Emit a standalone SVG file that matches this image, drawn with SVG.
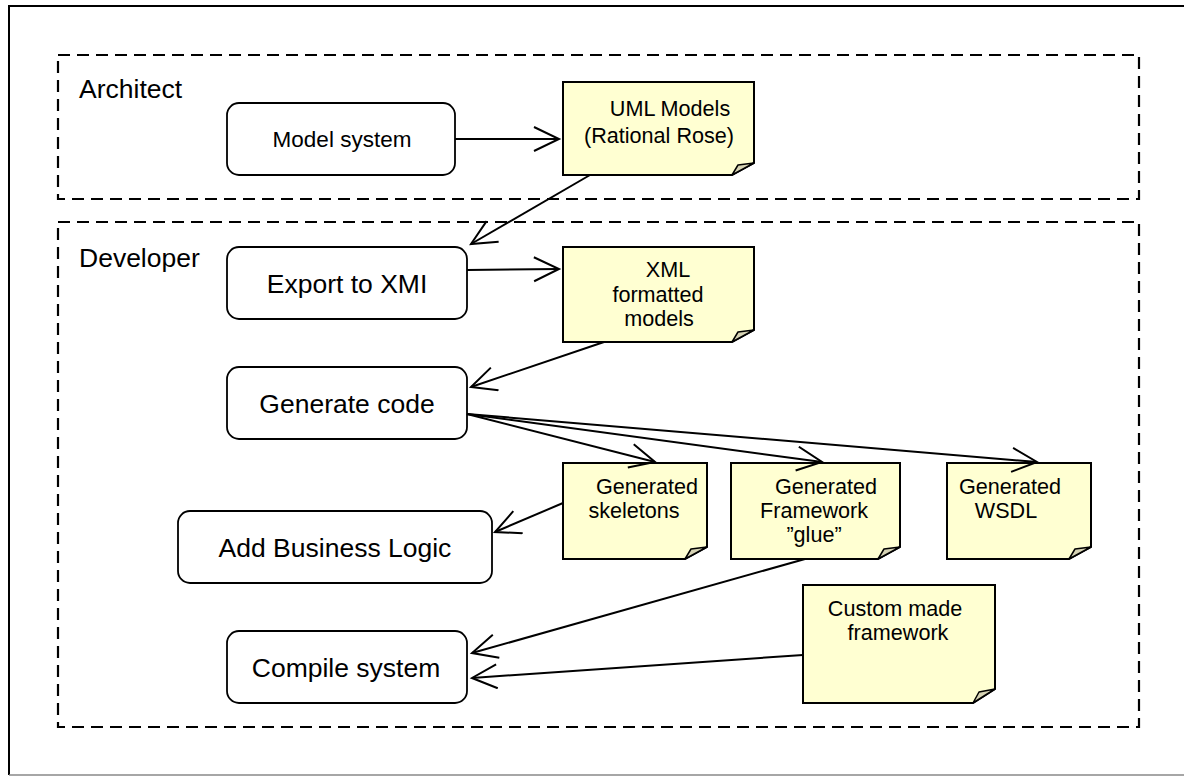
<svg xmlns="http://www.w3.org/2000/svg" width="1184" height="776" viewBox="0 0 1184 776">
<style>
.frame{fill:none;stroke:#000;stroke-width:2}
.lane{fill:none;stroke:#000;stroke-width:2.2;stroke-dasharray:12 7}
.lbl{font-family:"Liberation Sans",Arial,sans-serif;font-size:26.5px;fill:#000}
.box{fill:#fff;stroke:#000;stroke-width:1.8}
.btxt{font-family:"Liberation Sans",Arial,sans-serif;font-size:26.5px;fill:#000;text-anchor:middle}
.note{fill:#FFFFD2;stroke:#000;stroke-width:2}
.fold{fill:#D6D3B4;stroke:#000;stroke-width:1.5;stroke-linejoin:round}
.ntxt{font-family:"Liberation Sans",Arial,sans-serif;font-size:21.6px;fill:#000;text-anchor:middle}
.edge{fill:none;stroke:#000;stroke-width:2}
</style>
<defs>
<marker id="open" markerUnits="userSpaceOnUse" markerWidth="32" markerHeight="28" refX="27" refY="13" orient="auto">
<path d="M2,1 L27,13 L2,25" fill="none" stroke="#000" stroke-width="2"/>
</marker>
</defs>
<rect width="1184" height="776" fill="#fff"/>
<path class="frame" d="M1184,6 H9 V775"/>
<line x1="9" y1="775" x2="1184" y2="775" stroke="#888" stroke-width="1.5"/>

<g id="lane-architect">
<rect class="lane" x="58" y="55" width="1081" height="144"/>
<text class="lbl" x="79" y="98">Architect</text>
</g>
<g id="lane-developer">
<rect class="lane" x="58" y="222" width="1081" height="505"/>
<text class="lbl" x="79" y="267">Developer</text>
</g>

<g id="model-system">
<rect class="box" x="227" y="103" width="228" height="72" rx="12"/>
<text class="btxt" x="342" y="147" style="font-size:22.5px">Model system</text>
</g>
<g id="uml-models">
<path class="note" d="M563,82 H754 V163 L732,175 H563 Z"/>
<path class="fold" d="M732,175 L738,165 L754,163 Z"/>
<text class="ntxt" x="670" y="116">UML Models</text>
<text class="ntxt" x="659" y="143">(Rational Rose)</text>
</g>
<g id="export-xmi">
<rect class="box" x="227" y="247" width="240" height="72" rx="12"/>
<text class="btxt" x="347" y="293">Export to XMI</text>
</g>
<g id="xml-models">
<path class="note" d="M563,247 H754 V330 L732,342 H563 Z"/>
<path class="fold" d="M732,342 L738,332 L754,330 Z"/>
<text class="ntxt" x="668" y="277">XML</text>
<text class="ntxt" x="658" y="302">formatted</text>
<text class="ntxt" x="659" y="326">models</text>
</g>
<g id="generate-code">
<rect class="box" x="227" y="367" width="240" height="72" rx="12"/>
<text class="btxt" x="347" y="413">Generate code</text>
</g>
<g id="gen-skeletons">
<path class="note" d="M563,463 H707 V547 L685,559 H563 Z"/>
<path class="fold" d="M685,559 L691,549 L707,547 Z"/>
<text class="ntxt" x="647" y="494">Generated</text>
<text class="ntxt" x="634" y="518">skeletons</text>
</g>
<g id="gen-framework">
<path class="note" d="M731,463 H900 V547 L878,559 H731 Z"/>
<path class="fold" d="M878,559 L884,549 L900,547 Z"/>
<text class="ntxt" x="826" y="494">Generated</text>
<text class="ntxt" x="814" y="518">Framework</text>
<text class="ntxt" x="814" y="542">”glue”</text>
</g>
<g id="gen-wsdl">
<path class="note" d="M947,463 H1091 V547 L1069,559 H947 Z"/>
<path class="fold" d="M1069,559 L1075,549 L1091,547 Z"/>
<text class="ntxt" x="1010" y="494">Generated</text>
<text class="ntxt" x="1006" y="518">WSDL</text>
</g>
<g id="add-business-logic">
<rect class="box" x="178" y="511" width="314" height="72" rx="12"/>
<text class="btxt" x="335" y="557">Add Business Logic</text>
</g>
<g id="custom-framework">
<path class="note" d="M803,585 H995 V689 L973,703 H803 Z"/>
<path class="fold" d="M973,703 L979,692 L995,689 Z"/>
<text class="ntxt" x="895" y="616">Custom made</text>
<text class="ntxt" x="898" y="640">framework</text>
</g>
<g id="compile-system">
<rect class="box" x="227" y="631" width="240" height="72" rx="12"/>
<text class="btxt" x="346" y="677">Compile system</text>
</g>

<g id="connectors">
<line class="edge" x1="455" y1="139" x2="559" y2="139" marker-end="url(#open)"/>
<line class="edge" x1="590" y1="175" x2="471" y2="244" marker-end="url(#open)"/>
<line class="edge" x1="467" y1="270" x2="559" y2="269" marker-end="url(#open)"/>
<line class="edge" x1="604" y1="342" x2="471" y2="387" marker-end="url(#open)"/>
<line class="edge" x1="467" y1="414" x2="655" y2="462" marker-end="url(#open)"/>
<line class="edge" x1="467" y1="414" x2="822" y2="462" marker-end="url(#open)"/>
<line class="edge" x1="467" y1="414" x2="1037" y2="462" marker-end="url(#open)"/>
<line class="edge" x1="563" y1="503" x2="495" y2="532" marker-end="url(#open)"/>
<line class="edge" x1="805" y1="559" x2="472" y2="653" marker-end="url(#open)"/>
<line class="edge" x1="803" y1="655" x2="472" y2="678" marker-end="url(#open)"/>
</g>
</svg>
